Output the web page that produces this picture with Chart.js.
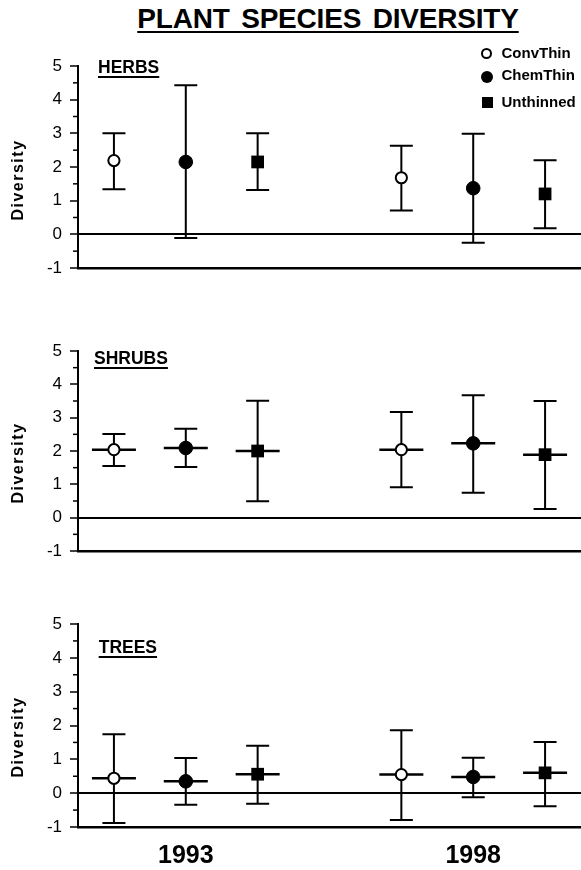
<!DOCTYPE html>
<html>
<head>
<meta charset="utf-8">
<script src="https://cdn.jsdelivr.net/npm/chart.js@4"></script>
<style>
  html, body { margin: 0; padding: 0; background: #fff; }
  body {
    width: 581px; height: 870px; position: relative; overflow: hidden;
    font-family: 'Liberation Sans', Arial, sans-serif; color: #000;
  }
  .panel { position: absolute; left: 0; width: 581px; z-index: 1; }
  .txt { position: absolute; line-height: 1; white-space: nowrap; font-weight: bold; z-index: 2; }
  .title {
    font-size: 28px; left: 328px; top: 4.6px; transform: translateX(-50%);
    word-spacing: 4px; letter-spacing: -0.2px;
    text-decoration: underline; text-decoration-thickness: 2px; text-underline-offset: 3px;
  }
  .plabel {
    font-size: 17.5px;
    text-decoration: underline; text-decoration-thickness: 2px; text-underline-offset: 3px;
  }
  .ytitle {
    font-size: 16px; letter-spacing: 1.5px; left: 18px;
    transform: translate(-50%, -50%) rotate(-90deg);
  }
  .leg { font-size: 15px; left: 501.5px; }
  .mk { position: absolute; box-sizing: border-box; z-index: 2; }
</style>
</head>
<body>

<div class="txt title">PLANT SPECIES DIVERSITY</div>

<div class="mk" style="left:480.5px; top:47.8px; width:11px; height:11px; border:2px solid #000; border-radius:50%; background:#fff;"></div>
<div class="mk" style="left:480.5px; top:70.7px; width:12px; height:12px; border-radius:50%; background:#000;"></div>
<div class="mk" style="left:482px; top:97px; width:11px; height:11px; background:#000;"></div>
<div class="txt leg" style="top:44.6px;">ConvThin</div>
<div class="txt leg" style="top:66.6px;">ChemThin</div>
<div class="txt leg" style="top:94px;">Unthinned</div>

<div class="txt plabel" style="left:98px; top:59.2px;">HERBS</div>
<div class="txt plabel" style="left:94px; top:350.2px;">SHRUBS</div>
<div class="txt plabel" style="left:98.7px; top:639.2px;">TREES</div>

<div class="txt ytitle" style="top:180px;">Diversity</div>
<div class="txt ytitle" style="top:463px;">Diversity</div>
<div class="txt ytitle" style="top:737px;">Diversity</div>

<script>
// series and years
const seriesNames = ['ConvThin', 'ChemThin', 'Unthinned'];
const yearLabels = ['1993', '1998'];
const yearTicks = [2, 6];

// order: ConvThin 93, ChemThin 93, Unthinned 93, ConvThin 98, ChemThin 98, Unthinned 98
const herbsMean  = [2.19, 2.15, 2.15, 1.68, 1.37, 1.20];
const herbsUpper = [3.00, 4.43, 3.00, 2.63, 2.99, 2.20];
const herbsLower = [1.34, -0.11, 1.32, 0.71, -0.25, 0.18];

const shrubsMean  = [2.04, 2.09, 2.00, 2.04, 2.23, 1.89];
const shrubsUpper = [2.51, 2.67, 3.51, 3.17, 3.67, 3.50];
const shrubsLower = [1.55, 1.52, 0.49, 0.91, 0.75, 0.26];

const treesMean  = [0.44, 0.35, 0.56, 0.55, 0.48, 0.60];
const treesUpper = [1.74, 1.04, 1.40, 1.86, 1.05, 1.51];
const treesLower = [-0.88, -0.34, -0.31, -0.79, -0.12, -0.39];

const FONT = "'Liberation Sans', Arial, sans-serif";

// marker look per series
const markers = [
    { style: 'circle', radius: 5.6, fill: '#fff', border: 2 },
    { style: 'circle', radius: 6.8, fill: '#000', border: 1 },
    { style: 'rect',   radius: 9,   fill: '#000', border: 0 }
];

// error bars: vertical line + caps, optional crossbar through the mean
const errorBars = {
    id: 'errorBars',
    beforeDatasetsDraw(chart, args, opts) {
        const ctx = chart.ctx;
        const yScale = chart.scales.y;
        ctx.save();
        ctx.strokeStyle = '#000';
        chart.data.datasets.forEach((ds, i) => {
            chart.getDatasetMeta(i).data.forEach((pt, j) => {
                const yHi = yScale.getPixelForValue(ds.upper[j]);
                const yLo = yScale.getPixelForValue(ds.lower[j]);
                ctx.lineWidth = 2;
                ctx.beginPath();
                ctx.moveTo(pt.x, yHi);
                ctx.lineTo(pt.x, yLo);
                ctx.moveTo(pt.x - opts.cap, yHi);
                ctx.lineTo(pt.x + opts.cap, yHi);
                ctx.moveTo(pt.x - opts.cap, yLo);
                ctx.lineTo(pt.x + opts.cap, yLo);
                ctx.stroke();
                if (opts.crossbar) {
                    ctx.lineWidth = 2.5;
                    ctx.beginPath();
                    ctx.moveTo(pt.x - opts.bar, pt.y);
                    ctx.lineTo(pt.x + opts.bar, pt.y);
                    ctx.stroke();
                }
            });
        });
        ctx.restore();
    }
};

// short ticks at the half units
const minorTicks = {
    id: 'minorTicks',
    afterDraw(chart) {
        const s = chart.scales.y;
        const ctx = chart.ctx;
        ctx.save();
        ctx.strokeStyle = '#000';
        ctx.lineWidth = 1.5;
        for (let v = s.min + 0.5; v < s.max; v += 1) {
            const py = s.getPixelForValue(v);
            ctx.beginPath();
            ctx.moveTo(s.right - 5, py);
            ctx.lineTo(s.right, py);
            ctx.stroke();
        }
        ctx.restore();
    }
};

const panels = [
    { mean: herbsMean,  upper: herbsUpper,  lower: herbsLower,  crossbar: false, top: 66,  bottom: 268, xh: 20, years: false },
    { mean: shrubsMean, upper: shrubsUpper, lower: shrubsLower, crossbar: true,  top: 351, bottom: 551, xh: 20, years: false },
    { mean: treesMean,  upper: treesUpper,  lower: treesLower,  crossbar: true,  top: 624, bottom: 827, xh: 43, years: true }
];

const PAD_TOP = 20;

panels.forEach(p => {
    const wrap = document.createElement('div');
    wrap.className = 'panel';
    wrap.style.top = (p.top - PAD_TOP) + 'px';
    const canvas = document.createElement('canvas');
    canvas.width = 581;
    canvas.height = p.bottom - p.top + PAD_TOP + p.xh;
    wrap.appendChild(canvas);
    document.body.appendChild(wrap);

    const datasets = seriesNames.map((name, s) => ({
        label: name,
        data: yearLabels.map((_, j) => ({ x: s + 1 + 4 * j, y: p.mean[3 * j + s] })),
        upper: yearLabels.map((_, j) => p.upper[3 * j + s]),
        lower: yearLabels.map((_, j) => p.lower[3 * j + s]),
        pointStyle: markers[s].style,
        pointRadius: markers[s].radius,
        pointBackgroundColor: markers[s].fill,
        pointBorderColor: '#000',
        pointBorderWidth: markers[s].border
    }));

    new Chart(canvas, {
        type: 'scatter',
        data: { datasets },
        options: {
            responsive: false,
            animation: false,
            devicePixelRatio: 1,
            layout: { autoPadding: false, padding: { top: PAD_TOP, right: 0, bottom: 0, left: 0 } },
            plugins: {
                legend: { display: false },
                tooltip: { enabled: false },
                errorBars: { cap: 11.5, bar: 22, crossbar: p.crossbar }
            },
            scales: {
                x: {
                    type: 'linear',
                    min: 0.5,
                    max: 7.5,
                    afterBuildTicks: axis => { axis.ticks = yearTicks.map(v => ({ value: v })); },
                    afterFit: axis => { axis.height = p.xh; },
                    grid: { display: false, drawTicks: false },
                    border: { display: true, color: '#000', width: 2.5 },
                    ticks: {
                        display: p.years,
                        padding: 14,
                        color: '#000',
                        font: { family: FONT, size: 25, weight: 'bold' },
                        callback: v => yearLabels[yearTicks.indexOf(v)]
                    }
                },
                y: {
                    min: -1,
                    max: 5,
                    afterFit: axis => { axis.width = 78; },
                    grid: {
                        color: c => (c.tick && c.tick.value === 0) ? '#000' : 'rgba(0,0,0,0)',
                        lineWidth: 2,
                        drawTicks: true,
                        tickLength: 8,
                        tickColor: '#000',
                        tickWidth: 1.5
                    },
                    border: { display: true, color: '#000', width: 2 },
                    ticks: {
                        stepSize: 1,
                        padding: 8,
                        color: '#000',
                        font: { family: FONT, size: 17 }
                    }
                }
            }
        },
        plugins: [errorBars, minorTicks]
    });
});
</script>
</body>
</html>
